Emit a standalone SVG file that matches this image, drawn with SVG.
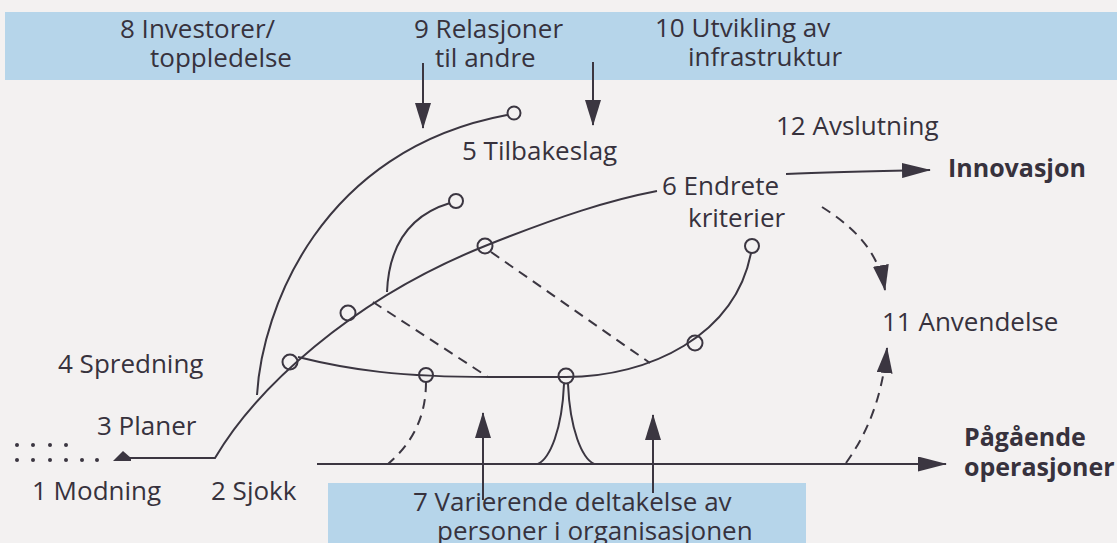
<svg xmlns="http://www.w3.org/2000/svg" width="1117" height="543" viewBox="0 0 1117 543">
<defs>
<style>
.t{font-family:"Open Sans","Liberation Sans",sans-serif;font-size:26px;fill:#37323d}
.b{font-weight:bold;font-size:25px}
.ln{fill:none;stroke:#3b3641;stroke-width:2}
.ds{fill:none;stroke:#3b3641;stroke-width:2;stroke-dasharray:10 7}
.c{fill:none;stroke:#3b3641;stroke-width:2}
.band{fill:#b6d5ea}
</style>
<marker id="ah" viewBox="0 0 26 16" refX="25" refY="8" markerWidth="26" markerHeight="16" markerUnits="userSpaceOnUse" orient="auto">
<path d="M0,0 L26,8 L0,16 Z" fill="#3b3641"/>
</marker>
<marker id="ah2" viewBox="0 0 29 15" refX="28" refY="7.5" markerWidth="29" markerHeight="15" markerUnits="userSpaceOnUse" orient="auto">
<path d="M0,0 L29,7.5 L0,15 Z" fill="#3b3641"/>
</marker>
</defs>
<rect width="1117" height="543" fill="#f3f1f1"/>
<rect class="band" x="5" y="12" width="1112" height="68"/>
<rect class="band" x="328" y="483" width="478" height="60"/>

<g id="connectors">
<path class="ln" d="M128,458 L215,458 C255,390 350,300 485,246 C560,216 610,200 657,191"/>
<polygon points="113,461 123,451 131,458 131,461" fill="#3b3641"/>
<path class="ln" d="M257,395 C262,310 320,150 507,115"/>
<path class="ln" d="M387,292 C389,245 410,215 450,203"/>
<path class="ln" d="M298,357 C350,370 400,377 490,377 L566,377 C650,377 735,335 751,253"/>
<path class="ds" d="M373,302 L488,377"/>
<path class="ds" d="M491,252 L650,363"/>
<path class="ds" d="M426,382 C426,420 410,445 388,464"/>
<path class="ln" d="M564,384 C562,430 550,458 538,464"/>
<path class="ln" d="M568,384 C570,430 582,458 594,464"/>
<path class="ln" d="M317,464 L946,464" marker-end="url(#ah2)"/>
<path class="ln" d="M786,174 C830,172 880,171 930,170" marker-end="url(#ah2)"/>
<path class="ds" d="M822,207 C850,225 878,248 885,290" marker-end="url(#ah)"/>
<path class="ds" d="M846,463 C866,435 882,400 887,348" marker-end="url(#ah)"/>
<path class="ln" d="M423,63 L423,128" marker-end="url(#ah)"/>
<path class="ln" d="M593,62 L593,125" marker-end="url(#ah)"/>
<path class="ln" d="M483,500 L483,413" marker-end="url(#ah)"/>
<path class="ln" d="M653,493 L653,415" marker-end="url(#ah)"/>
</g>

<g id="circles">
<circle class="c" cx="290" cy="362" r="7.5"/>
<circle class="c" cx="348" cy="313" r="7.5"/>
<circle class="c" cx="426" cy="375" r="7"/>
<circle class="c" cx="485" cy="246" r="7.5"/>
<circle class="c" cx="566" cy="376" r="7.5"/>
<circle class="c" cx="695" cy="343" r="7.5"/>
<circle class="c" cx="752" cy="246" r="7"/>
<circle class="c" cx="456" cy="201" r="7"/>
<circle class="c" cx="514" cy="113" r="6.5"/>
</g>

<g id="dots" fill="#3b3641">
<circle cx="17" cy="445" r="2"/><circle cx="33" cy="445" r="2"/><circle cx="50" cy="445" r="2"/><circle cx="66" cy="445" r="2"/>
<circle cx="17" cy="460" r="2"/><circle cx="33" cy="460" r="2"/><circle cx="50" cy="460" r="2"/><circle cx="66" cy="460" r="2"/><circle cx="82" cy="460" r="2"/><circle cx="97" cy="460" r="2"/>
</g>

<g id="n8"><text class="t" x="120" y="38">8 Investorer/</text><text class="t" x="150" y="67">toppledelse</text></g>
<g id="n9"><text class="t" x="414" y="38">9 Relasjoner</text><text class="t" x="435" y="67">til andre</text></g>
<g id="n10"><text class="t" x="655" y="37">10 Utvikling av</text><text class="t" x="688" y="66">infrastruktur</text></g>
<g id="n12"><text class="t" x="776" y="135">12 Avslutning</text></g>
<g id="n5"><text class="t" x="462" y="160">5 Tilbakeslag</text></g>
<g id="ninnov"><text class="t b" x="948" y="177">Innovasjon</text></g>
<g id="n6"><text class="t" x="662" y="195">6 Endrete</text><text class="t" x="688" y="227">kriterier</text></g>
<g id="n11"><text class="t" x="882" y="331">11 Anvendelse</text></g>
<g id="n4"><text class="t" x="58" y="373">4 Spredning</text></g>
<g id="n3"><text class="t" x="97" y="435">3 Planer</text></g>
<g id="n1"><text class="t" x="32" y="500">1 Modning</text></g>
<g id="n2"><text class="t" x="211" y="500">2 Sjokk</text></g>
<g id="nops"><text class="t b" x="964" y="446">Pågående</text><text class="t b" x="964" y="476">operasjoner</text></g>
<g id="n7"><text class="t" x="413" y="511">7 Varierende deltakelse av</text><text class="t" x="437" y="540">personer i organisasjonen</text></g>
</svg>
